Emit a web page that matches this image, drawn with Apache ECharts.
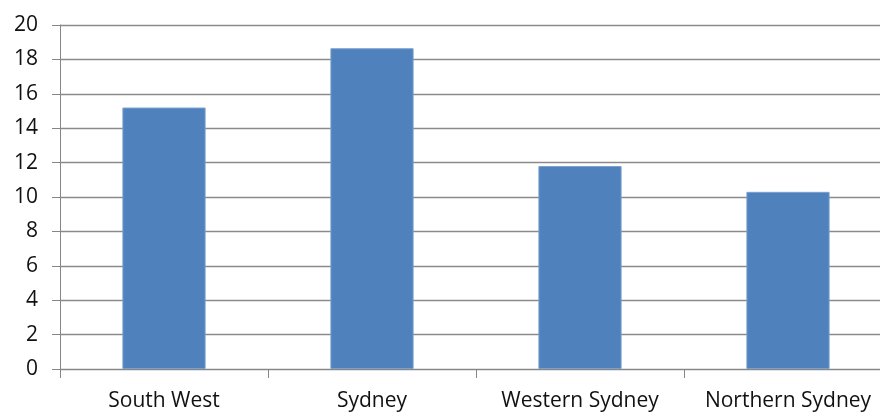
<!DOCTYPE html>
<html><head><meta charset="utf-8">
<script src="https://cdn.jsdelivr.net/npm/echarts@6/dist/echarts.min.js"></script>
<style>html,body{margin:0;padding:0;background:#fff;overflow:hidden;width:880px;height:412px}#c{width:892px;height:412px}</style>
</head><body><div id="c"></div>
<script>
const categories = ['South West', 'Sydney', 'Western Sydney', 'Northern Sydney'];
const values = [15.2, 18.65, 11.8, 10.3];
const yTicks = [0, 2, 4, 6, 8, 10, 12, 14, 16, 18, 20];

const chart = echarts.init(document.getElementById('c'), null, {renderer: 'canvas'});
chart.setOption({
  animation: false,
  textStyle: {fontFamily: 'Open Sans'},
  grid: {left: 60, top: 25, right: 0, height: 344, containLabel: false},
  xAxis: {
    type: 'category',
    data: categories,
    boundaryGap: true,
    axisLine: {lineStyle: {color: '#868686', width: 1}},
    axisTick: {show: true, interval: 0, length: 9, alignWithLabel: false, lineStyle: {color: '#868686'}},
    axisLabel: {interval: 0, hideOverlap: false, color: '#111', fontSize: 21, margin: 22, fontFamily: 'Open Sans'}
  },
  yAxis: {
    type: 'value',
    min: yTicks[0], max: yTicks[yTicks.length - 1], interval: 2,
    axisLine: {show: true, lineStyle: {color: '#868686', width: 1}},
    axisTick: {show: true, length: 8, lineStyle: {color: '#868686'}},
    axisLabel: {color: '#111', fontSize: 21, margin: 22, fontFamily: 'Open Sans'},
    splitLine: {show: true, lineStyle: {color: '#8a8a8a', width: 1.3}}
  },
  series: [{
    type: 'bar',
    data: values,
    barWidth: '40%',
    itemStyle: {color: '#4F81BD', borderColor: '#7aa0d0', borderWidth: 1}
  }]
});
</script></body></html>
